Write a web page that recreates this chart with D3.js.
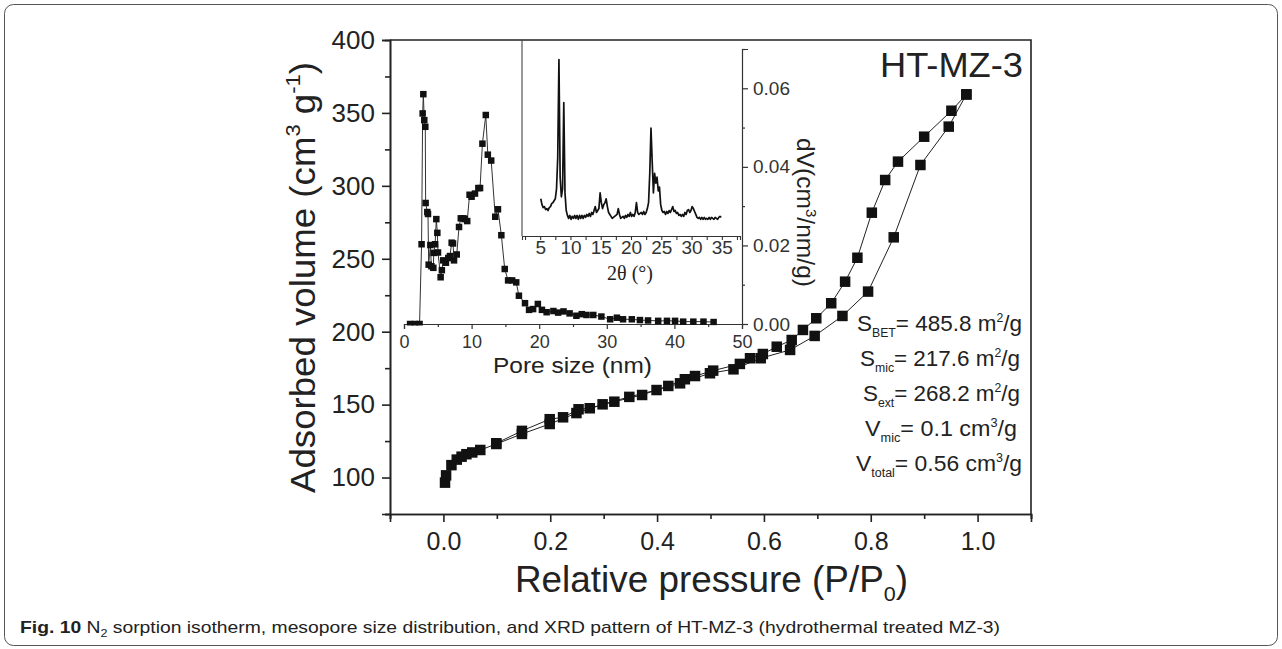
<!DOCTYPE html>
<html>
<head>
<meta charset="utf-8">
<script src="https://cdn.jsdelivr.net/npm/d3@7"></script>
<style>
  body { margin: 0; background: #fff; }
  svg { display: block; font-family: "Liberation Sans", Arial, sans-serif; }
</style>
</head>
<body>
<div id="chart"></div>
<script>
// N2 sorption isotherm of HT-MZ-3, with pore size distribution and XRD insets
// Values.

// Isotherm - adsorption branch
const isoAdsP = [0.003, 0.005, 0.015, 0.025, 0.034, 0.043, 0.054, 0.069, 0.099, 0.147, 0.199, 0.249, 0.298, 0.348, 0.399, 0.443, 0.499, 0.543, 0.594, 0.649, 0.695, 0.747, 0.795, 0.843, 0.893, 0.946, 0.979];
const isoAdsV = [96.5, 101.5, 108.5, 112.3, 114.3, 116.0, 117.2, 118.9, 123.0, 129.9, 136.7, 144.2, 150.2, 155.3, 160.0, 164.6, 171.5, 174.2, 181.8, 187.5, 197.1, 210.8, 227.5, 264.7, 314.3, 340.6, 362.7];

// Isotherm - desorption branch
const isoDesP = [0.979, 0.951, 0.900, 0.851, 0.827, 0.802, 0.775, 0.752, 0.726, 0.698, 0.673, 0.652, 0.624, 0.598, 0.574, 0.555, 0.505, 0.471, 0.452, 0.421, 0.372, 0.320, 0.274, 0.253, 0.224, 0.199, 0.147, 0.099];
const isoDesV = [362.7, 351.5, 333.7, 316.6, 304.0, 281.6, 250.7, 234.3, 219.5, 209.2, 201.2, 194.3, 189.7, 184.7, 181.8, 177.9, 173.3, 169.6, 167.4, 162.8, 156.6, 152.0, 147.5, 146.8, 141.3, 140.0, 132.0, 123.5];

// Pore size distribution (nm, cm3/nm/g)
const poreSize = [0.9, 1.6, 2.3, 2.6, 2.76, 2.86, 3.0, 3.15, 3.2, 3.45, 3.55, 3.65, 3.9, 4.05, 4.34, 4.4, 4.6, 4.78, 4.93, 5.03, 5.42, 5.6, 5.8, 6.2, 6.55, 6.8, 7.05, 7.25, 7.4, 7.8, 8.14, 8.4, 8.8, 9.0, 9.35, 9.7, 10.0, 10.5, 11.0, 11.25, 11.6, 12.1, 12.4, 12.9, 13.5, 13.9, 14.4, 14.9, 15.4, 16.0, 16.6, 17.0, 17.9, 18.5, 19.1, 19.8, 20.4, 21.1, 22.1, 22.8, 23.6, 24.5, 25.5, 26.3, 27.0, 28.0, 29.2, 30.5, 31.5, 32.4, 33.7, 34.9, 36.1, 37.6, 38.9, 40.1, 41.3, 42.8, 44.3, 45.8];
const poreDv = [0, 0, 0, 0.0203, 0.0536, 0.0585, 0.0519, 0.0502, 0.0308, 0.0285, 0.0280, 0.0151, 0.0201, 0.0147, 0.0143, 0.0181, 0.0203, 0.0267, 0.0232, 0.0182, 0.0119, 0.0137, 0.0162, 0.0156, 0.0168, 0.0173, 0.0207, 0.0205, 0.0162, 0.0177, 0.0247, 0.0269, 0.0269, 0.0267, 0.0262, 0.0329, 0.0324, 0.0332, 0.0346, 0.0346, 0.0459, 0.0532, 0.0431, 0.0416, 0.0273, 0.0292, 0.0226, 0.0140, 0.0111, 0.0111, 0.0106, 0.0072, 0.0053, 0.0036, 0.0038, 0.0051, 0.0036, 0.0030, 0.0033, 0.0029, 0.0032, 0.0027, 0.0021, 0.0025, 0.0023, 0.0023, 0.0019, 0.0012, 0.0016, 0.0012, 0.0012, 0.0010, 0.0009, 0.0008, 0.0008, 0.0008, 0.0006, 0.0006, 0.0006, 0.0005];

// XRD pattern, scan from 5.1 deg in 0.2 deg steps (arbitrary intensity)
const xrdStart = 5.1, xrdStep = 0.2;
const xrdIntensity = [
  19, 16, 14.5, 15, 13.5, 14, 13, 14.5, 15, 16.5,
  17, 18, 19, 24, 40, 90, 30, 20, 24, 68,
  22, 13, 10.5, 9, 10.5, 8.5, 10, 9, 10.5, 9,
  10.5, 8.5, 10.5, 9, 10.5, 9, 10.5, 9.5, 11, 10,
  11.5, 10, 12, 11, 13, 15, 12, 13, 14, 22,
  17, 14, 16, 17, 19, 15, 12, 11, 10, 9,
  9.5, 10, 10.5, 11, 14, 11, 9, 9.5, 10, 9,
  10.5, 9.5, 11, 10, 12, 10, 11, 10, 12, 17,
  12, 11, 11.5, 12, 11, 12.5, 11, 12, 14, 17,
  32, 55, 38, 22, 32, 27, 30, 23, 25, 16,
  13, 12, 12.5, 11, 12.5, 11.5, 13, 12, 13.5, 15,
  12.5, 13, 11.5, 12, 10.5, 11, 10, 11, 10, 12,
  11, 13, 13.5, 12, 13, 15, 14, 12.5, 11, 9.5,
  9, 9.5, 8.5, 9.5, 8.5, 9.5, 8.5, 9, 8.5, 9.5,
  8.5, 9.5, 9, 8.5, 9.5, 9, 8.5, 9.5, 10, 9.5
];

// Tick values
const isoXTicks = [0, 0.2, 0.4, 0.6, 0.8, 1.0];
const isoXMinor = [-0.1, 0.1, 0.3, 0.5, 0.7, 0.9, 1.1];
const isoYTicks = [100, 150, 200, 250, 300, 350, 400];
const isoYMinor = [75, 125, 175, 225, 275, 325, 375];
const poreXTicks = [0, 10, 20, 30, 40, 50];
const poreXMinor = [5, 15, 25, 35, 45];
const poreYTicks = [0, 0.02, 0.04, 0.06];
const poreYMinor = [0.01, 0.03, 0.05, 0.07];
const xrdTicks = [5, 10, 15, 20, 25, 30, 35];
const xrdMinor = [2.5, 7.5, 12.5, 17.5, 22.5, 27.5, 32.5, 37.5];

// Text panel
const statSym  = ["S", "S", "S", "V", "V"];
const statSub  = ["BET", "mic", "ext", "mic", "total"];
const statVal  = ["= 485.8 m", "= 217.6 m", "= 268.2 m", "= 0.1 cm", "= 0.56 cm"];
const statSup  = ["2", "2", "2", "3", "3"];

const W = 1282, H = 649;
const ink = "#222";

const svg = d3.select("#chart").append("svg")
  .attr("width", W).attr("height", H);

// outer rounded box
svg.append("rect")
  .attr("x", 4.5).attr("y", 4.5)
  .attr("width", W - 9).attr("height", H - 8)
  .attr("rx", 9)
  .attr("fill", "none").attr("stroke", "#555").attr("stroke-width", 1);

function styleAxis(g, fontSize, color, width) {
  g.select(".domain").attr("stroke", color).attr("stroke-width", width);
  g.selectAll(".tick line").attr("stroke", color).attr("stroke-width", width);
  g.selectAll(".tick text")
    .attr("fill", color)
    .style("font-size", fontSize + "px")
    .style("font-family", "'Liberation Sans', Arial, sans-serif");
}

// ---------- main isotherm axes ----------
const x = d3.scaleLinear().domain([-0.1, 1.1]).range([390, 1031]);
const y = d3.scaleLinear().domain([75, 400]).range([514, 40]);

svg.append("g")
  .attr("transform", "translate(0,514)")
  .call(d3.axisBottom(x).tickValues(isoXTicks).tickFormat(d3.format(".1f")).tickSize(8).tickPadding(10))
  .call(g => styleAxis(g, 25, ink, 1.6));
svg.append("g")
  .attr("transform", "translate(0,514)")
  .call(d3.axisBottom(x).tickValues(isoXMinor).tickFormat("").tickSize(5))
  .call(g => styleAxis(g, 25, ink, 1.6));

svg.append("g")
  .attr("transform", "translate(390,0)")
  .call(d3.axisLeft(y).tickValues(isoYTicks).tickFormat(d3.format("d")).tickSize(8).tickPadding(7))
  .call(g => styleAxis(g, 26, ink, 1.6));
svg.append("g")
  .attr("transform", "translate(390,0)")
  .call(d3.axisLeft(y).tickValues(isoYMinor).tickFormat("").tickSize(5))
  .call(g => styleAxis(g, 26, ink, 1.6));

// top and right frame
svg.append("path")
  .attr("d", `M${x(-0.1)},${y(400)}H${x(1.1)}V${y(75)}`)
  .attr("fill", "none").attr("stroke", ink).attr("stroke-width", 1.6);

// ---------- XRD inset ----------
const xx = d3.scaleLinear().domain([2, 38]).range([522, 740]);
const xy = d3.scaleLinear().domain([0, 100]).range([236, 40]);
const xrdData = xrdIntensity.map((v, i) => ({ a: xrdStart + i * xrdStep, v }));

svg.append("line")
  .attr("x1", xx(2)).attr("x2", xx(2))
  .attr("y1", xy(100)).attr("y2", xy(0))
  .attr("stroke", "#444").attr("stroke-width", 1.1);

svg.append("g")
  .attr("transform", "translate(0,236)")
  .call(d3.axisBottom(xx).tickValues(xrdTicks).tickSize(4).tickPadding(1))
  .call(g => styleAxis(g, 19, "#333", 1.1));
svg.append("g")
  .attr("transform", "translate(0,236)")
  .call(d3.axisBottom(xx).tickValues(xrdMinor).tickFormat("").tickSize(4))
  .call(g => g.select(".domain").remove())
  .call(g => styleAxis(g, 19, "#333", 1.1));

svg.append("path")
  .datum(xrdData)
  .attr("d", d3.line().x(d => xx(d.a)).y(d => xy(d.v)))
  .attr("fill", "none").attr("stroke", "#111").attr("stroke-width", 1.7)
  .attr("stroke-linejoin", "round");

svg.append("text")
  .attr("x", 630).attr("y", 280)
  .attr("text-anchor", "middle")
  .style("font-family", "'Liberation Serif', 'Times New Roman', serif")
  .style("font-size", "20px").attr("fill", "#222")
  .text("2θ (°)");

// ---------- pore size inset ----------
const px = d3.scaleLinear().domain([0, 50]).range([404, 742]);
const py = d3.scaleLinear().domain([0, 0.07]).range([324, 49]);
const poreData = poreSize.map((d, i) => ({ d, v: poreDv[i] }));

svg.append("g")
  .attr("transform", "translate(0,324)")
  .call(d3.axisBottom(px).tickValues(poreXTicks).tickSize(5).tickPadding(6))
  .call(g => styleAxis(g, 18, "#333", 1.2));
svg.append("g")
  .attr("transform", "translate(0,324)")
  .call(d3.axisBottom(px).tickValues(poreXMinor).tickFormat("").tickSize(3))
  .call(g => g.select(".domain").remove())
  .call(g => styleAxis(g, 18, "#333", 1.2));

svg.append("g")
  .attr("transform", "translate(742,0)")
  .call(d3.axisRight(py).tickValues(poreYTicks).tickFormat(d3.format(".2f")).tickSize(6).tickPadding(5))
  .call(g => styleAxis(g, 19, "#333", 1.2));
svg.append("g")
  .attr("transform", "translate(742,0)")
  .call(d3.axisRight(py).tickValues(poreYMinor).tickFormat("").tickSize(3))
  .call(g => g.select(".domain").remove())
  .call(g => styleAxis(g, 19, "#333", 1.2));

svg.append("clipPath").attr("id", "pore-clip")
  .append("rect").attr("x", 396).attr("y", 40).attr("width", 350).attr("height", 285.5);

const poreG = svg.append("g").attr("clip-path", "url(#pore-clip)");
poreG.append("path")
  .datum(poreData)
  .attr("d", d3.line().x(d => px(d.d)).y(d => py(d.v)))
  .attr("fill", "none").attr("stroke", "#333").attr("stroke-width", 1);
const pm = 6.5;
poreG.selectAll(".pm")
  .data(poreData)
  .join("rect")
  .attr("class", "pm")
  .attr("x", d => px(d.d) - pm / 2).attr("y", d => py(d.v) - pm / 2)
  .attr("width", pm).attr("height", pm)
  .attr("fill", "#111");

svg.append("text")
  .attr("x", 493).attr("y", 373)
  .attr("textLength", 159).attr("lengthAdjust", "spacingAndGlyphs")
  .style("font-size", "22px").attr("fill", "#222")
  .text("Pore size (nm)");

const dvLabel = svg.append("text")
  .attr("transform", "translate(797,138) rotate(90)")
  .attr("textLength", 149).attr("lengthAdjust", "spacingAndGlyphs")
  .style("font-size", "23px").attr("fill", "#222");
dvLabel.append("tspan").text("dV(cm");
dvLabel.append("tspan").attr("dy", -9).style("font-size", "14px").text("3");
dvLabel.append("tspan").attr("dy", 9).text("/nm/g)");

// ---------- isotherm data ----------
const adsData = isoAdsP.map((p, i) => ({ p, v: isoAdsV[i] }));
const desData = isoDesP.map((p, i) => ({ p, v: isoDesV[i] }));
const isoLine = d3.line().x(d => x(d.p)).y(d => y(d.v));

[adsData, desData].forEach(series => {
  svg.append("path")
    .datum(series)
    .attr("d", isoLine)
    .attr("fill", "none").attr("stroke", "#222").attr("stroke-width", 1);
});
const ms = 10.5;
svg.selectAll(".im")
  .data(adsData.concat(desData))
  .join("rect")
  .attr("class", "im")
  .attr("x", d => x(d.p) - ms / 2).attr("y", d => y(d.v) - ms / 2)
  .attr("width", ms).attr("height", ms)
  .attr("fill", "#111");

// ---------- titles ----------
const yTitle = svg.append("text")
  .attr("transform", "translate(315,493) rotate(-90)")
  .attr("textLength", 431).attr("lengthAdjust", "spacingAndGlyphs")
  .style("font-size", "35px").attr("fill", "#222");
yTitle.append("tspan").text("Adsorbed volume (cm");
yTitle.append("tspan").attr("dy", -15).style("font-size", "21px").text("3");
yTitle.append("tspan").attr("dy", 15).text(" g");
yTitle.append("tspan").attr("dy", -15).style("font-size", "21px").text("-1");
yTitle.append("tspan").attr("dy", 15).text(")");

const xTitle = svg.append("text")
  .attr("x", 515).attr("y", 592)
  .attr("textLength", 393).attr("lengthAdjust", "spacingAndGlyphs")
  .style("font-size", "36px").attr("fill", "#222");
xTitle.append("tspan").text("Relative pressure (P/P");
xTitle.append("tspan").attr("dy", 9).style("font-size", "21px").text("0");
xTitle.append("tspan").attr("dy", -9).text(")");

svg.append("text")
  .attr("x", 880).attr("y", 77)
  .attr("textLength", 143).attr("lengthAdjust", "spacingAndGlyphs")
  .style("font-size", "35px").attr("fill", "#222")
  .text("HT-MZ-3");

// surface area / volume panel
const statLeft = [857, 860, 863, 865, 856];
const statRight = [1022, 1020, 1020, 1017, 1022];
statSym.forEach((s, i) => {
  const t = svg.append("text")
    .attr("x", statLeft[i]).attr("y", 331 + i * 35)
    .attr("textLength", statRight[i] - statLeft[i]).attr("lengthAdjust", "spacingAndGlyphs")
    .style("font-size", "22px").attr("fill", "#222");
  t.append("tspan").text(s);
  t.append("tspan").attr("dy", 6).style("font-size", "12px").text(statSub[i]);
  t.append("tspan").attr("dy", -6).text(statVal[i]);
  t.append("tspan").attr("dy", -9).style("font-size", "12px").text(statSup[i]);
  t.append("tspan").attr("dy", 9).text("/g");
});

// caption
const cap = svg.append("text")
  .attr("x", 20).attr("y", 633)
  .attr("textLength", 980).attr("lengthAdjust", "spacingAndGlyphs")
  .style("font-family", "'Liberation Sans Narrow', 'Arial Narrow', 'Liberation Sans', sans-serif")
  .style("font-size", "17px").attr("fill", "#222");
cap.append("tspan").style("font-weight", "bold").text("Fig. 10");
cap.append("tspan").text(" N");
cap.append("tspan").attr("dy", 4).style("font-size", "11px").text("2");
cap.append("tspan").attr("dy", -4).text(" sorption isotherm, mesopore size distribution, and XRD pattern of HT-MZ-3 (hydrothermal treated MZ-3)");
</script>
</body>
</html>
